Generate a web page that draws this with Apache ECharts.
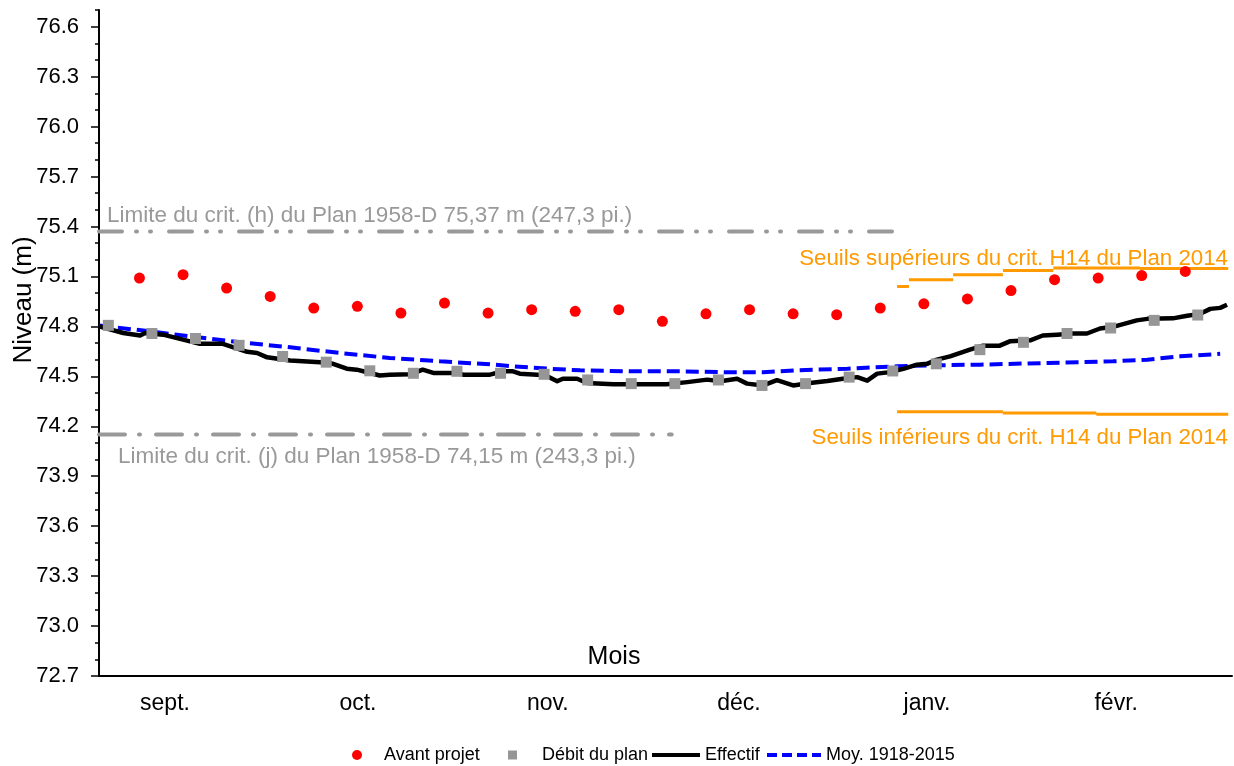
<!DOCTYPE html>
<html><head><meta charset="utf-8">
<script src="https://cdn.jsdelivr.net/npm/echarts@6/dist/echarts.min.js"></script>
<style>html,body{margin:0;padding:0;background:#fff}#c{width:1234px;height:766px}</style>
</head><body><div id="c"></div><script>
// ---- data ----
const monthNames = ['sept.', 'oct.', 'nov.', 'déc.', 'janv.', 'févr.'];
const monthLabelDays = [10.6, 41.6, 72.1, 102.8, 133.0, 163.4];
const yTickLabels = [72.7, 73.0, 73.3, 73.6, 73.9, 74.2, 74.5, 74.8, 75.1, 75.4, 75.7, 76.0, 76.3, 76.6];

const weekStep = 7;
const avantStartDay = 6.5;
const avantProjet = [75.09, 75.11, 75.03, 74.98, 74.91, 74.92, 74.88, 74.94, 74.88, 74.90, 74.89, 74.90, 74.83,
  74.875, 74.90, 74.875, 74.87, 74.91, 74.935, 74.965, 75.015, 75.08, 75.09, 75.105, 75.13];
const planStartDay = 1.5;
const debitPlan = [74.806, 74.757, 74.727, 74.686, 74.619, 74.585, 74.533, 74.518, 74.530, 74.518, 74.512, 74.478, 74.456,
  74.456, 74.478, 74.445, 74.456, 74.495, 74.532, 74.575, 74.66, 74.704, 74.757, 74.79, 74.836, 74.868];

const effectifDays = [0, 3.9, 6.6, 7.4, 10.3, 13.5, 16.2, 19.9, 23.8, 25.4, 27.0, 30.7, 35.5, 37.6, 39.8, 41.4, 43.1, 45.1, 46.7,
  50.0, 52.0, 53.7, 57.5, 58.5, 62.8, 64.9, 66.5, 67.6, 70.4, 72.0, 73.6, 74.5, 76.8, 78.4, 82.6, 88.0, 91.2, 94.5, 97.7, 99.8,
  102.5, 104.1, 106.7, 108.9, 111.5, 114.2, 117.0, 119.5, 121.8, 123.4, 125.0, 127.1, 129.2, 131.4, 133.0, 134.6, 136.7, 139.9,
  142.0, 144.7, 146.3, 149.6, 151.6, 153.9, 156.5, 158.7, 160.8, 162.9, 166.7, 168.4, 172.5, 174.8, 176.9, 178.5, 180.1, 181.2];
const effectifVals = [74.80, 74.76, 74.745, 74.76, 74.75, 74.72, 74.695, 74.695, 74.647, 74.64, 74.614, 74.595, 74.585, 74.575,
  74.546, 74.54, 74.524, 74.505, 74.51, 74.512, 74.54, 74.52, 74.52, 74.51, 74.51, 74.53, 74.53, 74.516, 74.51, 74.50, 74.47,
  74.485, 74.485, 74.46, 74.452, 74.452, 74.452, 74.465, 74.48, 74.47, 74.485, 74.456, 74.445, 74.477, 74.445, 74.46, 74.472,
  74.485, 74.495, 74.474, 74.516, 74.525, 74.545, 74.57, 74.575, 74.60, 74.62, 74.66, 74.684, 74.684, 74.71, 74.716, 74.745,
  74.75, 74.757, 74.757, 74.787, 74.797, 74.836, 74.845, 74.848, 74.864, 74.875, 74.905, 74.911, 74.93];

const moyDays = [0, 8.2, 14.6, 22.7, 30.7, 38.7, 46.7, 54.8, 62.8, 66.5, 72.0, 77.3, 85.3, 93.3, 101.4, 106.7, 112.1, 120.2,
  128.2, 130.8, 141.5, 152.3, 162.9, 168.4, 173.7, 180.1];
const moyVals = [74.805, 74.77, 74.74, 74.704, 74.674, 74.64, 74.61, 74.59, 74.572, 74.56, 74.546, 74.536, 74.53, 74.53,
  74.524, 74.524, 74.536, 74.546, 74.56, 74.564, 74.57, 74.58, 74.59, 74.60, 74.62, 74.635];

const limitH = 75.37, limitHEndDay = 129.2;
const limitJ = 74.15, limitJEndDay = 92.0;

const upperThrStart = [128.2, 130.1, 137.2, 145.2, 153.3, 167.2];
const upperThrEnd   = [130.1, 137.2, 145.2, 153.3, 167.2, 181.4];
const upperThrVals  = [75.04, 75.08, 75.11, 75.135, 75.15, 75.148];
const lowerThrStart = [128.2, 145.2, 160.2];
const lowerThrEnd   = [145.2, 160.2, 181.4];
const lowerThrVals  = [74.287, 74.28, 74.272];

// ---- build ----
const FONT = 'Arial, "Liberation Sans", sans-serif';
const weekly = (start, vals) => vals.map((v, i) => [start + i * weekStep, v]);
const pairs = (xs, ys) => xs.map((x, i) => [x, ys[i]]);
const segs = (s, e, v) => { const out = []; s.forEach((x, i) => { out.push([x, v[i]], [e[i], v[i]], [e[i], '-']); }); return out; };
const minorTicks = [];
for (let i = 0; i < yTickLabels.length - 1; i++) {
  const a = yTickLabels[i], b = yTickLabels[i + 1];
  minorTicks.push(+(a + (b - a) / 3).toFixed(2), +(a + 2 * (b - a) / 3).toFixed(2));
}
minorTicks.push(76.7);

const legTxt = { fontSize: 18, color: '#000', fontFamily: FONT };
const mkLegend = (name, left, w, h, extra, pad) => ({
  data: [Object.assign({ name }, extra)], left, top: 741, itemWidth: w, itemHeight: h,
  textStyle: Object.assign({}, legTxt, { padding: [0, 0, 0, pad] })
});

const chart = echarts.init(document.getElementById('c'), null, { renderer: 'canvas' });
chart.setOption({
  animation: false,
  backgroundColor: '#fff',
  textStyle: { fontFamily: FONT },
  grid: { left: 99, right: 2, top: 10, bottom: 90, containLabel: false },
  legend: [
    mkLegend('Avant projet', 347, 10, 10, { icon: 'circle' }, 17),
    mkLegend('Débit du plan', 503, 9, 9, { icon: 'path://M0,0h10v10h-10z' }, 20),
    mkLegend('Effectif', 645, 48, 10, { itemStyle: { opacity: 0 }, lineStyle: { width: 4 } }, 0),
    mkLegend('Moy. 1918-2015', 760, 54, 10, { itemStyle: { opacity: 0 }, lineStyle: { width: 4, type: [10, 5] } }, 0)
  ],
  xAxis: {
    type: 'value', min: 0, max: 182,
    axisLine: { show: true, lineStyle: { color: '#000', width: 2 } },
    axisTick: { show: false },
    splitLine: { show: false },
    axisLabel: {
      customValues: monthLabelDays, margin: 16, fontSize: 23, color: '#000', fontFamily: FONT,
      formatter: (v) => { const i = monthLabelDays.findIndex(d => Math.abs(d - v) < 1e-6); return i >= 0 ? monthNames[i] : ''; }
    }
  },
  yAxis: [{
    type: 'value', min: 72.7, max: 76.7, position: 'left',
    axisLine: { show: true, lineStyle: { color: '#000', width: 2 } },
    axisTick: { show: true, customValues: yTickLabels, length: 8, lineStyle: { color: '#000', width: 1.5 } },
    splitLine: { show: false },
    axisLabel: { customValues: yTickLabels, margin: 20, fontSize: 22, color: '#000', fontFamily: FONT,
      formatter: (v) => v.toFixed(1) }
  }, {
    type: 'value', min: 72.7, max: 76.7, position: 'left',
    axisLine: { show: false },
    axisTick: { show: true, customValues: minorTicks, length: 4, lineStyle: { color: '#000', width: 1.5 } },
    axisLabel: { show: false, customValues: minorTicks },
    splitLine: { show: false }
  }],
  series: [
    { name: 'limH', type: 'line', symbol: 'none', silent: true, z: 1,
      data: [[0, limitH], [limitHEndDay, limitH]],
      lineStyle: { color: '#999', width: 4, type: [23, 14, 1, 13, 1, 18], cap: 'round' } },
    { name: 'limJ', type: 'line', symbol: 'none', silent: true, z: 1,
      data: [[0, limitJ], [limitJEndDay, limitJ]],
      lineStyle: { color: '#999', width: 4, type: [26, 14, 1, 16], cap: 'round' } },
    { name: 'seuilSup', type: 'line', symbol: 'none', silent: true, z: 1, connectNulls: false,
      data: segs(upperThrStart, upperThrEnd, upperThrVals),
      lineStyle: { color: '#FF9A00', width: 3 } },
    { name: 'seuilInf', type: 'line', symbol: 'none', silent: true, z: 1, connectNulls: false,
      data: segs(lowerThrStart, lowerThrEnd, lowerThrVals),
      lineStyle: { color: '#FF9A00', width: 3 } },
    { name: 'Moy. 1918-2015', type: 'line', symbol: 'none', z: 2,
      data: pairs(moyDays, moyVals),
      itemStyle: { color: '#0000FF' },
      lineStyle: { color: '#0000FF', width: 4, type: [13, 6] } },
    { name: 'Effectif', type: 'line', symbol: 'none', z: 3,
      data: pairs(effectifDays, effectifVals),
      itemStyle: { color: '#000' },
      lineStyle: { color: '#000', width: 4.5, join: 'round' } },
    { name: 'Débit du plan', type: 'scatter', symbol: 'rect', symbolSize: 11, z: 4,
      data: weekly(planStartDay, debitPlan), itemStyle: { color: '#969696', opacity: 1 } },
    { name: 'Avant projet', type: 'scatter', symbol: 'circle', symbolSize: 11, z: 5,
      data: weekly(avantStartDay, avantProjet), itemStyle: { color: '#FF0000', opacity: 1 } }
  ],
  graphic: [
    { type: 'text', x: 107, y: 216, style: { text: 'Limite du crit. (h) du Plan 1958-D 75,37 m (247,3 pi.)', fill: '#999', fontSize: 22.5, fontFamily: FONT, verticalAlign: 'middle' } },
    { type: 'text', x: 118, y: 457, style: { text: 'Limite du crit. (j) du Plan 1958-D 74,15 m (243,3 pi.)', fill: '#999', fontSize: 22.5, fontFamily: FONT, verticalAlign: 'middle' } },
    { type: 'text', x: 1228, y: 259, style: { text: 'Seuils supérieurs du crit. H14 du Plan 2014', fill: '#FF9A00', fontSize: 22.3, fontFamily: FONT, align: 'right', verticalAlign: 'middle' } },
    { type: 'text', x: 1228, y: 438, style: { text: 'Seuils inférieurs du crit. H14 du Plan 2014', fill: '#FF9A00', fontSize: 22.3, fontFamily: FONT, align: 'right', verticalAlign: 'middle' } },
    { type: 'text', x: 614, y: 657, style: { text: 'Mois', fill: '#000', fontSize: 25, fontFamily: FONT, align: 'center', verticalAlign: 'middle' } },
    { type: 'text', x: 24, y: 300, rotation: Math.PI / 2, style: { text: 'Niveau (m)', fill: '#000', fontSize: 26, fontFamily: FONT, align: 'center', verticalAlign: 'middle' } }
  ]
});
</script></body></html>
